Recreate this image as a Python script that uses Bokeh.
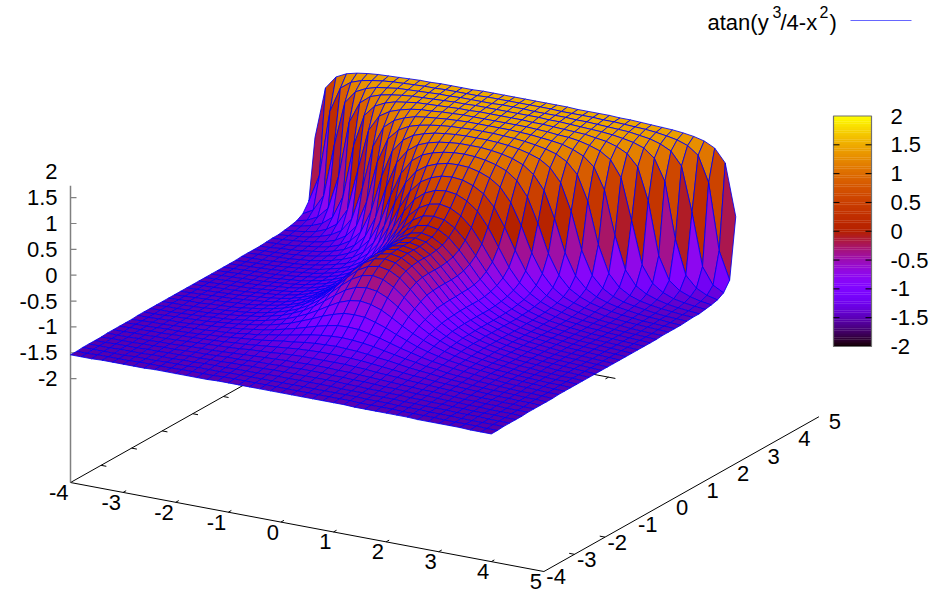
import math
from bokeh.plotting import figure
from bokeh.models import ColumnDataSource
from bokeh.core.properties import value
from bokeh.embed import file_html
from bokeh.resources import INLINE

# ---- data: surface heights read per y row, for |x| = 0, 0.2, ... 4.0 ----
abs_x = [0, .2, .4, .6, .8, 1, 1.2, 1.4, 1.6, 1.8, 2, 2.2, 2.4, 2.6, 2.8, 3, 3.2, 3.4, 3.6, 3.8, 4]
x_vals = [-4, -3.8, -3.6, -3.4, -3.2, -3, -2.8, -2.6, -2.4, -2.2, -2, -1.8, -1.6, -1.4, -1.2, -1, -.8, -.6, -.4, -.2,
          0, .2, .4, .6, .8, 1, 1.2, 1.4, 1.6, 1.8, 2, 2.2, 2.4, 2.6, 2.8, 3, 3.2, 3.4, 3.6, 3.8, 4]
y_vals = list(x_vals)

z_ym40 = [-1.51,-1.51,-1.51,-1.51,-1.51,-1.51,-1.51,-1.52,-1.52,-1.52,-1.52,-1.52,-1.52,-1.53,-1.53,-1.53,-1.53,-1.53,-1.54,-1.54,-1.54]
z_ym38 = [-1.50,-1.50,-1.50,-1.50,-1.50,-1.50,-1.50,-1.51,-1.51,-1.51,-1.51,-1.52,-1.52,-1.52,-1.52,-1.53,-1.53,-1.53,-1.53,-1.54,-1.54]
z_ym36 = [-1.49,-1.49,-1.49,-1.49,-1.49,-1.49,-1.49,-1.50,-1.50,-1.50,-1.51,-1.51,-1.51,-1.52,-1.52,-1.52,-1.53,-1.53,-1.53,-1.53,-1.53]
z_ym34 = [-1.47,-1.47,-1.47,-1.47,-1.48,-1.48,-1.48,-1.49,-1.49,-1.49,-1.50,-1.50,-1.51,-1.51,-1.51,-1.52,-1.52,-1.52,-1.53,-1.53,-1.53]
z_ym32 = [-1.45,-1.45,-1.45,-1.45,-1.46,-1.46,-1.47,-1.47,-1.48,-1.48,-1.49,-1.49,-1.50,-1.50,-1.51,-1.51,-1.52,-1.52,-1.52,-1.53,-1.53]
z_ym30 = [-1.42,-1.42,-1.43,-1.43,-1.44,-1.44,-1.45,-1.46,-1.46,-1.47,-1.48,-1.48,-1.49,-1.50,-1.50,-1.51,-1.51,-1.52,-1.52,-1.52,-1.53]
z_ym28 = [-1.39,-1.39,-1.40,-1.40,-1.41,-1.42,-1.43,-1.44,-1.45,-1.46,-1.47,-1.47,-1.48,-1.49,-1.50,-1.50,-1.51,-1.51,-1.52,-1.52,-1.52]
z_ym26 = [-1.35,-1.35,-1.35,-1.36,-1.37,-1.39,-1.40,-1.41,-1.43,-1.44,-1.45,-1.46,-1.47,-1.48,-1.49,-1.50,-1.50,-1.51,-1.51,-1.52,-1.52]
z_ym24 = [-1.29,-1.29,-1.30,-1.31,-1.33,-1.35,-1.37,-1.39,-1.41,-1.42,-1.44,-1.45,-1.46,-1.47,-1.48,-1.49,-1.50,-1.50,-1.51,-1.51,-1.52]
z_ym22 = [-1.21,-1.22,-1.23,-1.25,-1.28,-1.30,-1.33,-1.36,-1.38,-1.40,-1.42,-1.44,-1.45,-1.47,-1.48,-1.49,-1.49,-1.50,-1.51,-1.51,-1.52]
z_ym20 = [-1.11,-1.12,-1.14,-1.17,-1.21,-1.25,-1.29,-1.32,-1.36,-1.38,-1.41,-1.43,-1.44,-1.46,-1.47,-1.48,-1.49,-1.50,-1.50,-1.51,-1.52]
z_ym18 = [-.97,-.98,-1.02,-1.07,-1.13,-1.19,-1.24,-1.29,-1.33,-1.36,-1.39,-1.41,-1.43,-1.45,-1.46,-1.48,-1.49,-1.49,-1.50,-1.51,-1.51]
z_ym16 = [-.80,-.81,-.87,-.94,-1.03,-1.11,-1.19,-1.25,-1.30,-1.34,-1.37,-1.40,-1.42,-1.44,-1.46,-1.47,-1.48,-1.49,-1.50,-1.51,-1.51]
z_ym14 = [-.60,-.63,-.70,-.81,-.93,-1.04,-1.13,-1.21,-1.27,-1.32,-1.36,-1.39,-1.42,-1.44,-1.45,-1.47,-1.48,-1.49,-1.50,-1.50,-1.51]
z_ym12 = [-.41,-.44,-.53,-.67,-.82,-.96,-1.08,-1.17,-1.25,-1.30,-1.35,-1.38,-1.41,-1.43,-1.45,-1.47,-1.48,-1.49,-1.50,-1.50,-1.51]
z_ym10 = [-.24,-.28,-.39,-.55,-.73,-.90,-1.04,-1.15,-1.23,-1.29,-1.34,-1.38,-1.41,-1.43,-1.45,-1.46,-1.48,-1.49,-1.50,-1.50,-1.51]
z_ym08 = [-.13,-.17,-.28,-.46,-.66,-.85,-1.00,-1.12,-1.21,-1.28,-1.33,-1.37,-1.40,-1.43,-1.45,-1.46,-1.47,-1.49,-1.49,-1.50,-1.51]
z_ym06 = [-.05,-.09,-.21,-.39,-.60,-.81,-.98,-1.11,-1.21,-1.28,-1.33,-1.37,-1.40,-1.43,-1.44,-1.46,-1.47,-1.48,-1.49,-1.50,-1.51]
z_ym04 = [-.02,-.06,-.18,-.36,-.58,-.80,-.97,-1.10,-1.20,-1.27,-1.33,-1.37,-1.40,-1.42,-1.44,-1.46,-1.47,-1.48,-1.49,-1.50,-1.51]
z_ym02 = [0,-.04,-.16,-.35,-.57,-.79,-.96,-1.10,-1.20,-1.27,-1.33,-1.37,-1.40,-1.42,-1.44,-1.46,-1.47,-1.48,-1.49,-1.50,-1.51]
z_y000 = [0,-.04,-.16,-.35,-.57,-.79,-.96,-1.10,-1.20,-1.27,-1.33,-1.37,-1.40,-1.42,-1.44,-1.46,-1.47,-1.48,-1.49,-1.50,-1.51]
z_yp02 = [0,-.04,-.16,-.35,-.57,-.78,-.96,-1.10,-1.20,-1.27,-1.33,-1.37,-1.40,-1.42,-1.44,-1.46,-1.47,-1.48,-1.49,-1.50,-1.51]
z_yp04 = [.02,-.02,-.14,-.33,-.56,-.78,-.96,-1.10,-1.20,-1.27,-1.33,-1.37,-1.40,-1.42,-1.44,-1.46,-1.47,-1.48,-1.49,-1.50,-1.51]
z_yp06 = [.05,.01,-.11,-.30,-.53,-.76,-.95,-1.09,-1.19,-1.27,-1.32,-1.37,-1.40,-1.42,-1.44,-1.46,-1.47,-1.48,-1.49,-1.50,-1.51]
z_yp08 = [.13,.09,-.03,-.23,-.47,-.72,-.92,-1.07,-1.18,-1.26,-1.32,-1.36,-1.40,-1.42,-1.44,-1.46,-1.47,-1.48,-1.49,-1.50,-1.51]
z_yp10 = [.24,.21,.09,-.11,-.37,-.64,-.87,-1.04,-1.16,-1.25,-1.31,-1.36,-1.39,-1.42,-1.44,-1.46,-1.47,-1.48,-1.49,-1.50,-1.51]
z_yp12 = [.41,.37,.26,.07,-.21,-.52,-.79,-.99,-1.13,-1.23,-1.30,-1.35,-1.39,-1.41,-1.44,-1.45,-1.47,-1.48,-1.49,-1.50,-1.51]
z_yp14 = [.60,.57,.48,.32,.05,-.30,-.65,-.91,-1.08,-1.20,-1.28,-1.33,-1.38,-1.41,-1.43,-1.45,-1.47,-1.48,-1.49,-1.50,-1.51]
z_yp16 = [.80,.78,.71,.59,.37,.02,-.39,-.75,-.99,-1.15,-1.25,-1.31,-1.36,-1.40,-1.43,-1.45,-1.46,-1.48,-1.49,-1.50,-1.50]
z_yp18 = [.97,.96,.91,.83,.69,.43,.02,-.47,-.83,-1.06,-1.20,-1.28,-1.34,-1.38,-1.42,-1.44,-1.46,-1.47,-1.48,-1.49,-1.50]
z_yp20 = [1.11,1.10,1.07,1.02,.94,.79,.51,.04,-.51,-.89,-1.11,-1.23,-1.31,-1.36,-1.40,-1.43,-1.45,-1.47,-1.48,-1.49,-1.50]
z_yp22 = [1.21,1.21,1.19,1.16,1.11,1.03,.88,.61,.10,-.52,-.93,-1.14,-1.26,-1.33,-1.38,-1.41,-1.44,-1.46,-1.47,-1.49,-1.50]
z_yp24 = [1.29,1.29,1.28,1.26,1.23,1.18,1.11,.98,.73,.21,-.50,-.95,-1.16,-1.28,-1.35,-1.39,-1.42,-1.45,-1.47,-1.48,-1.49]
z_yp26 = [1.35,1.35,1.34,1.33,1.31,1.28,1.24,1.18,1.07,.86,.38,-.42,-.94,-1.17,-1.29,-1.36,-1.40,-1.43,-1.45,-1.47,-1.48]
z_yp28 = [1.39,1.39,1.39,1.38,1.37,1.35,1.33,1.30,1.24,1.15,.98,.57,-.27,-.90,-1.17,-1.29,-1.36,-1.41,-1.44,-1.46,-1.48]
z_yp30 = [1.42,1.42,1.42,1.42,1.41,1.40,1.38,1.37,1.34,1.29,1.22,1.09,.78,-.01,-.83,-1.15,-1.29,-1.37,-1.41,-1.44,-1.46]
z_yp32 = [1.45,1.45,1.45,1.44,1.44,1.43,1.42,1.41,1.40,1.37,1.34,1.28,1.18,.96,.34,-.68,-1.12,-1.28,-1.36,-1.41,-1.44]
z_yp34 = [1.47,1.47,1.47,1.47,1.46,1.46,1.45,1.44,1.43,1.42,1.40,1.37,1.33,1.26,1.10,.69,-.39,-1.05,-1.26,-1.36,-1.41]
z_yp36 = [1.49,1.49,1.48,1.48,1.48,1.48,1.47,1.47,1.46,1.45,1.44,1.43,1.40,1.37,1.31,1.21,.96,.10,-.91,-1.23,-1.34]
z_yp38 = [1.50,1.50,1.50,1.50,1.49,1.49,1.49,1.49,1.48,1.48,1.47,1.46,1.45,1.43,1.40,1.36,1.29,1.14,.65,-.63,-1.16]
z_yp40 = [1.51,1.51,1.51,1.51,1.51,1.50,1.50,1.50,1.50,1.49,1.49,1.48,1.47,1.46,1.45,1.43,1.40,1.35,1.25,1.00,0]
z_rows = [z_ym40, z_ym38, z_ym36, z_ym34, z_ym32, z_ym30, z_ym28, z_ym26, z_ym24, z_ym22, z_ym20,
          z_ym18, z_ym16, z_ym14, z_ym12, z_ym10, z_ym08, z_ym06, z_ym04, z_ym02, z_y000,
          z_yp02, z_yp04, z_yp06, z_yp08, z_yp10, z_yp12, z_yp14, z_yp16, z_yp18, z_yp20,
          z_yp22, z_yp24, z_yp26, z_yp28, z_yp30, z_yp32, z_yp34, z_yp36, z_yp38, z_yp40]

x_ticks = [-4, -3, -2, -1, 0, 1, 2, 3, 4, 5]
y_ticks = [-4, -3, -2, -1, 0, 1, 2, 3, 4, 5]
z_ticks = [2, 1.5, 1, .5, 0, -.5, -1, -1.5, -2]
z_tick_labels = ["2", "1.5", "1", "0.5", "0", "-0.5", "-1", "-1.5", "-2"]
cb_levels = 128

FONT = value("Liberation Sans")
BASE_Z = -4.01


def proj(x, y, z):
    return (70 + 52.6 * (x + 4) + 30.56 * (y + 4),
            274.7 - 51.7 * z + 9.89 * (x + 4) - 17.2 * (y + 4))


def palette(z):
    g = max(0.0, min(1.0, (z + 2) / 4))
    r, gg, b = math.sqrt(g), g ** 3, max(0.0, math.sin(2 * math.pi * g))
    return "#%02x%02x%02x" % (round(r * 255), round(gg * 255), round(b * 255))


def height(i, j):
    return z_rows[j][abs(i - 20)]


p = figure(width=937, height=600, x_range=(0, 937), y_range=(600, 0),
           output_backend="svg", toolbar_location=None, min_border=0,
           outline_line_color=None, background_fill_color="white")
p.axis.visible = False
p.grid.visible = False


def seg(pairs, color="black", width=1.0):
    p.segment(x0=[a[0] for a, b in pairs], y0=[a[1] for a, b in pairs],
              x1=[b[0] for a, b in pairs], y1=[b[1] for a, b in pairs],
              line_color=color, line_width=width)


def label(xs, ys, texts, align, size="22px"):
    src = ColumnDataSource(dict(x=xs, y=ys, t=texts))
    p.text(x="x", y="y", text="t", source=src, text_font=FONT, text_font_size=size,
           text_align=align, text_baseline="middle", text_color="black")


# base box, under the surface
A, B, C, D = proj(-4, -4, BASE_Z), proj(5, -4, BASE_Z), proj(5, 5, BASE_Z), proj(-4, 5, BASE_Z)
back_edge_end_x = 1.13
seg([(A, B), (B, C), (A, D), (D, proj(back_edge_end_x, 5, BASE_Z))])

# x ticks on the front edge, y ticks on the right edge
x_seg = []
for t in x_ticks[1:-1]:
    x_seg.append((proj(t, -4, BASE_Z), proj(t, -3.9, BASE_Z)))
x_seg.append((proj(1, 5, BASE_Z), proj(1, 4.9, BASE_Z)))
seg(x_seg)
seg([(proj(5, t, BASE_Z), proj(4.9, t, BASE_Z)) for t in (-3, -2)])
seg([(proj(-4, t, BASE_Z), proj(-3.9, t, BASE_Z)) for t in (-3, -2, -1, 0, 1, 2, 3, 4)])

# z axis
zx = proj(-4, -4, 0)[0]
z_top = 1.73
seg([((zx, proj(-4, -4, BASE_Z)[1]), (zx, proj(-4, -4, z_top)[1]))], color="#808080", width=1.5)
seg([((zx, proj(-4, -4, t)[1] - 0), (zx + 6, proj(-4, -4, t)[1])) for t in z_ticks[1:]],
    color="#808080", width=1.2)

# the surface, painted in scans: far y rows first, each row from low x to high x
faces = []
for j in range(39, -1, -1):
    for i in range(40):
        corners = [(i, j), (i + 1, j), (i + 1, j + 1), (i, j + 1)]
        pts = [(x_vals[a], y_vals[b], height(a, b)) for a, b in corners]
        mz = sum(q[2] for q in pts) / 4
        scr = [proj(*q) for q in pts]
        faces.append(([s[0] for s in scr], [s[1] for s in scr], palette(mz)))
p.patches(xs=[f[0] for f in faces], ys=[f[1] for f in faces], fill_color=[f[2] for f in faces],
          line_color="#0000f0", line_width=0.85)

# tick labels
xl = [proj(t, -4, BASE_Z) for t in x_ticks]
label([q[0] - 2 for q in xl], [q[1] + 10 for q in xl], [str(t) for t in x_ticks], "right")
yl = [proj(5, t, BASE_Z) for t in y_ticks]
label([q[0] + 22 for q in yl], [q[1] + 5 for q in yl], [str(t) for t in y_ticks], "right")
label([57] * len(z_ticks), [proj(-4, -4, t)[1] for t in z_ticks], z_tick_labels, "right")

# colour box
cb_left, cb_right, cb_top, cb_bottom = 833.0, 871.0, 115.5, 346.0
band = (cb_bottom - cb_top) / cb_levels
overlap = 0.3
bt = [cb_bottom - band * (k + 1) for k in range(cb_levels)]
bb = [min(cb_bottom, cb_bottom - band * k + overlap) for k in range(cb_levels)]
p.quad(left=cb_left, right=cb_right, top=bt, bottom=bb,
       fill_color=[palette(-2 + 4 * (k + .5) / cb_levels) for k in range(cb_levels)], line_color=None)
p.quad(left=[cb_left], right=[cb_right], top=[cb_top], bottom=[cb_bottom],
       fill_color=None, line_color="#707070", line_width=1.2)
cb_y = [cb_bottom - (t + 2) / 4 * (cb_bottom - cb_top) for t in z_ticks]
seg([((cb_left, v), (cb_left + 6, v)) for v in cb_y[1:-1]], color="black", width=1)
seg([((cb_right - 6, v), (cb_right, v)) for v in cb_y[1:-1]], color="black", width=1)
label([890] * len(z_ticks), cb_y, z_tick_labels, "left")

# key
for txt, xx, yy, size in [("atan(y", 707, 22, "22px"), ("3", 772, 11.5, "16px"), ("/4-x", 780, 22, "22px"),
                          ("2", 819, 11.5, "16px"), (")", 829, 22, "22px")]:
    label([xx], [yy], [txt], "left", size)
p.line(x=[850, 911], y=[20, 20], line_color="#0000ff", line_width=1, line_alpha=0.6)

open("out.html", "w").write(file_html(p, INLINE))
